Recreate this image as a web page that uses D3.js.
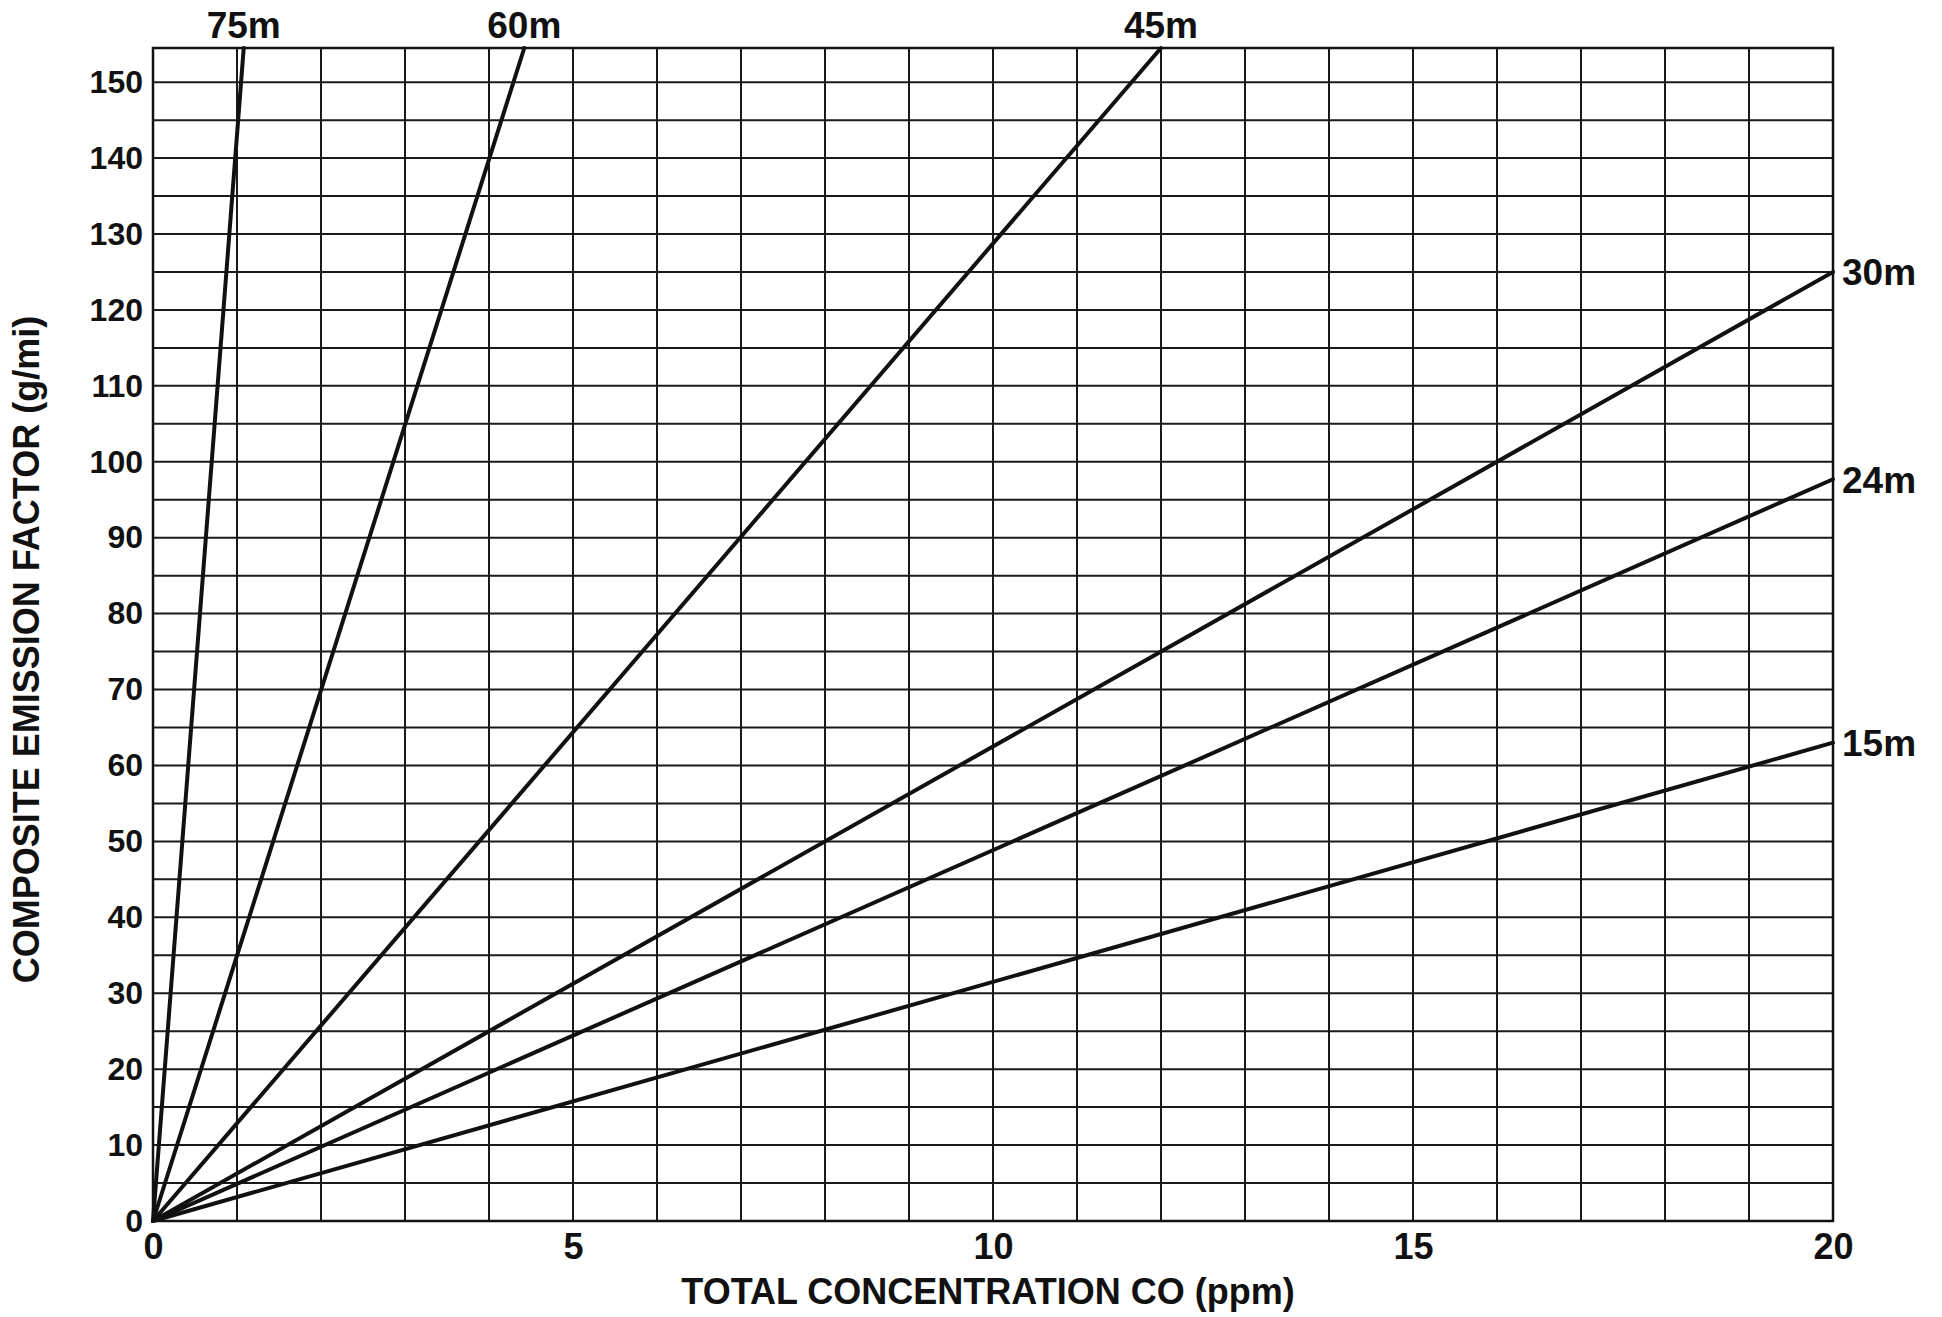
<!DOCTYPE html>
<html>
<head>
<meta charset="utf-8">
<script src="https://cdn.jsdelivr.net/npm/d3@7"></script>
<style>
  html, body { margin: 0; padding: 0; background: #fff; }
  svg { display: block; }
  text { font-family: "Liberation Sans", Arial, Helvetica, sans-serif; font-weight: bold; fill: #111; }
</style>
</head>
<body>
<svg id="chart" width="1942" height="1317"></svg>
<script>
// Concentration (ppm) on x, emission factor (g/mi) on y
const xDomain = [0, 20];
const yDomain = [0, 154.5];
const xTickLabels = [0, 5, 10, 15, 20];
const yTickLabels = [0, 10, 20, 30, 40, 50, 60, 70, 80, 90, 100, 110, 120, 130, 140, 150];
const xGridValues = d3.range(0, 21, 1);
const yGridValues = d3.range(0, 151, 5);

// Each height line runs from the origin to its end point
const heightLabels = ["75m", "60m", "45m", "30m", "24m", "15m"];
const endConcentration = [1.08, 4.42, 12.0, 20, 20, 20];
const endEmission = [154.5, 154.5, 154.5, 125, 97.7, 63];

const margin = { left: 153, right: 109, top: 48, bottom: 96 };
const W = 1942, H = 1317;
const svg = d3.select("#chart");

const x = d3.scaleLinear().domain(xDomain).range([margin.left, W - margin.right]);
const y = d3.scaleLinear().domain(yDomain).range([H - margin.bottom, margin.top]);

// Grid
const grid = svg.append("g").attr("stroke", "#1a1a1a").attr("stroke-width", 2);
grid.selectAll("line.v").data(xGridValues).join("line")
  .attr("class", "v")
  .attr("x1", d => x(d)).attr("x2", d => x(d))
  .attr("y1", y(yDomain[0])).attr("y2", y(yDomain[1]));
grid.selectAll("line.h").data(yGridValues).join("line")
  .attr("class", "h")
  .attr("x1", x(xDomain[0])).attr("x2", x(xDomain[1]))
  .attr("y1", d => y(d)).attr("y2", d => y(d));

// Frame
svg.append("rect")
  .attr("x", x(xDomain[0])).attr("y", y(yDomain[1]))
  .attr("width", x(xDomain[1]) - x(xDomain[0]))
  .attr("height", y(yDomain[0]) - y(yDomain[1]))
  .attr("fill", "none").attr("stroke", "#111").attr("stroke-width", 2.5);

// Axes (labels only; the grid carries the lines)
const xAxis = d3.axisBottom(x).tickValues(xTickLabels).tickSize(0).tickPadding(12).tickFormat(d3.format("d"));
const gx = svg.append("g").attr("transform", `translate(0,${y(0)})`).call(xAxis);
gx.select(".domain").remove();
gx.selectAll("text").attr("font-size", 36).attr("dy", "0.72em")
  .style("font-family", "'Liberation Sans', Arial, sans-serif").style("font-weight", "bold").attr("fill", "#111");

const yAxis = d3.axisLeft(y).tickValues(yTickLabels).tickSize(0).tickPadding(10).tickFormat(d3.format("d"));
const gy = svg.append("g").attr("transform", `translate(${x(0)},0)`).call(yAxis);
gy.select(".domain").remove();
gy.selectAll("text").attr("font-size", 32)
  .style("font-family", "'Liberation Sans', Arial, sans-serif").style("font-weight", "bold").attr("fill", "#111");

// Height lines
const lineGen = d3.line().x(d => x(d[0])).y(d => y(d[1]));
const series = heightLabels.map((name, i) => ({
  name,
  points: [[0, 0], [endConcentration[i], endEmission[i]]]
}));
svg.append("g").selectAll("path").data(series).join("path")
  .attr("d", d => lineGen(d.points))
  .attr("fill", "none").attr("stroke", "#111").attr("stroke-width", 4)
  .attr("stroke-linecap", "round");

// Line labels: above the frame where a line leaves the top, right of it otherwise
svg.append("g").selectAll("text").data(series).join("text")
  .attr("font-size", 37)
  .attr("x", d => {
    const [cx, cy] = d.points[1];
    return cy >= yDomain[1] ? x(cx) : x(cx) + 9;
  })
  .attr("y", d => {
    const [cx, cy] = d.points[1];
    return cy >= yDomain[1] ? y(cy) - 10 : y(cy);
  })
  .attr("dy", d => d.points[1][1] >= yDomain[1] ? 0 : "0.36em")
  .attr("text-anchor", d => d.points[1][1] >= yDomain[1] ? "middle" : "start")
  .text(d => d.name);

// Axis titles
svg.append("text")
  .attr("x", (x(0) + x(20)) / 2 - 5).attr("y", 1304)
  .attr("text-anchor", "middle").attr("font-size", 36)
  .text("TOTAL CONCENTRATION CO (ppm)");

svg.append("text")
  .attr("transform", `translate(39,${(y(0) + y(yDomain[1])) / 2 + 15}) rotate(-90)`)
  .attr("text-anchor", "middle").attr("font-size", 36)
  .text("COMPOSITE EMISSION FACTOR (g/mi)");
</script>
</body>
</html>
